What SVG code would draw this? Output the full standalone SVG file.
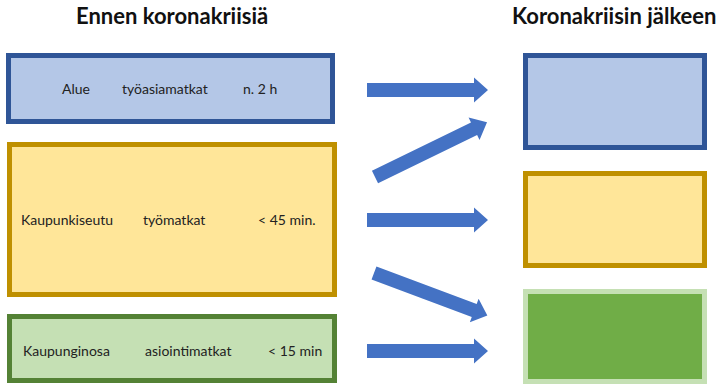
<svg xmlns="http://www.w3.org/2000/svg" xmlns:xlink="http://www.w3.org/1999/xlink" width="721" height="385" viewBox="0 0 721 385">
<style>
.title{font-family:Lato,"Open Sans","Liberation Sans",sans-serif;font-weight:bold;font-size:22px;fill:#111}
.lbl{font-family:Lato,"Open Sans","Liberation Sans",sans-serif;font-size:14px;fill:#222}
.blue{fill:#b4c7e7;stroke:#2f5597;stroke-width:5}
.yellow{fill:#ffe699;stroke:#bf9000;stroke-width:5}
.lgreen{fill:#c5e0b4;stroke:#548235;stroke-width:5}
.dgreen{fill:#70ad47;stroke:#c5e0b4;stroke-width:5}
.arrow{fill:#4472c4}
</style>
<defs>
<path id="arr" d="M0,-7 H107 V-12.5 L121,0 L107,12.5 V7 H0 Z"/>
</defs>
<rect width="721" height="385" fill="#ffffff"/>
<text class="title" x="76" y="24">Ennen koronakriisiä</text>
<text class="title" x="512" y="24">Koronakriisin jälkeen</text>
<g id="before-alue">
<rect class="blue" x="8.5" y="55.5" width="324" height="66"/>
<text class="lbl" x="62" y="94">Alue</text>
<text class="lbl" x="122" y="94">työasiamatkat</text>
<text class="lbl" x="243" y="94">n. 2 h</text>
</g>
<g id="before-kaupunkiseutu">
<rect class="yellow" x="9.5" y="144.5" width="325" height="150"/>
<text class="lbl" x="21" y="225">Kaupunkiseutu</text>
<text class="lbl" x="143" y="225">työmatkat</text>
<text class="lbl" x="258" y="225">&lt; 45 min.</text>
</g>
<g id="before-kaupunginosa">
<rect class="lgreen" x="9.5" y="316.5" width="325" height="64"/>
<text class="lbl" x="23" y="356">Kaupunginosa</text>
<text class="lbl" x="145" y="356">asiointimatkat</text>
<text class="lbl" x="268" y="356">&lt; 15 min</text>
</g>
<g id="after-blue">
<rect class="blue" x="525.5" y="55.5" width="179" height="92"/>
</g>
<g id="after-yellow">
<rect class="yellow" x="525.5" y="173.5" width="179" height="92"/>
</g>
<g id="after-green">
<rect class="dgreen" x="525.5" y="291.5" width="179" height="90"/>
</g>
<g id="connectors" class="arrow">
<use xlink:href="#arr" transform="translate(367,90)"/>
<use xlink:href="#arr" transform="translate(375,177) rotate(-26) scale(1.03,1)"/>
<use xlink:href="#arr" transform="translate(367,220)"/>
<use xlink:href="#arr" transform="translate(374,273) rotate(20.5)"/>
<use xlink:href="#arr" transform="translate(367,351)"/>
</g>
</svg>
